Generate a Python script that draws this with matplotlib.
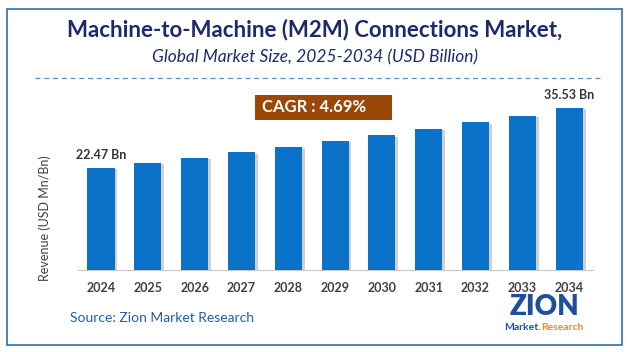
import matplotlib
matplotlib.use("Agg")
import matplotlib.pyplot as plt
import matplotlib.patheffects as pe
from matplotlib.patches import Rectangle

# datos
years = ['2024', '2025', '2026', '2027', '2028', '2029', '2030', '2031', '2032', '2033', '2034']
revenue = [22.47, 23.5, 24.6, 25.8, 27.0, 28.3, 29.6, 31.0, 32.4, 33.9, 35.53]
value_labels = {0: '22.47 Bn', 10: '35.53 Bn'}
cagr_text = 'CAGR : 4.69%'

plt.rcParams['font.family'] = ['Lato', 'DejaVu Sans']

fig = plt.figure(figsize=(6.29, 3.52), dpi=100)
W, H = 629, 352

# marco azul
fig.patches.append(Rectangle((7 / W, 7 / H), 615 / W, 336 / H, transform=fig.transFigure,
                             fill=False, edgecolor='#2E6DB4', linewidth=1.2))

# titulos
fig.text(0.5, 1 - 30 / H, 'Machine-to-Machine (M2M) Connections Market,', ha='center', va='center',
         fontsize=16, fontweight='bold', color='#1C2A6B')
fig.text(0.5, 1 - 57 / H, 'Global Market Size, 2025-2034 (USD Billion)', ha='center', va='center',
         fontsize=12.5, style='italic', color='#1C2A6B')
fig.lines.append(plt.Line2D([35 / W, 600 / W], [1 - 78 / H, 1 - 78 / H], transform=fig.transFigure,
                            color='#5B8FD0', linewidth=0.9, linestyle=(0, (4, 3))))

# grafico de barras
ax = fig.add_axes([77.6 / W, 82 / H, 515 / W, 180 / H])
x = range(len(years))
bars = ax.bar(x, revenue, width=0.58, color='#0A72C8', zorder=3)
for b in bars:
    b.set_path_effects([pe.SimplePatchShadow(offset=(2, -1), shadow_rgbFace='#8a8a8a', alpha=0.4), pe.Normal()])
for i, txt in value_labels.items():
    ax.text(i, revenue[i] + 1.5, txt, ha='center', va='bottom', fontsize=9, fontweight='bold', color='#333333')

ax.set_xlim(-0.5, 10.5)
ax.set_ylim(0, 39.5)
ax.set_xticks(list(x))
ax.set_xticklabels(years, fontsize=9, fontweight='bold', color='#404040')
ax.tick_params(axis='x', length=0, pad=9)
ax.set_yticks([])
for s in ['top', 'right', 'left']:
    ax.spines[s].set_visible(False)
ax.spines['bottom'].set_color('#C8C8C8')
ax.patch.set_alpha(0)

fig.text(45 / W, 1 - 218 / H, 'Revenue (USD Mn/Bn)', rotation=90, ha='center', va='center',
         fontsize=9, color='#404040')

# caja CAGR
fig.patches.append(Rectangle((255 / W, 1 - 120 / H), 137 / W, 25 / H, transform=fig.transFigure,
                             facecolor='#9A4708', edgecolor='none'))
fig.text(262 / W, 1 - 107.5 / H, cagr_text, ha='left', va='center', fontsize=12, fontweight='bold',
         color='white')

# fuente y logo
fig.text(70 / W, 1 - 318 / H, 'Source: Zion Market Research', ha='left', va='center', fontsize=10,
         color='#1F5FAD')
fig.text(545 / W, 1 - 307 / H, 'ZION', ha='center', va='center', fontsize=20, fontweight='heavy',
         color='#1F4E9C')
fig.text(541 / W, 1 - 328 / H, 'Market.', ha='right', va='center', fontsize=7.5, fontweight='bold',
         color='#1F4E9C')
fig.text(541 / W, 1 - 328 / H, 'Research', ha='left', va='center', fontsize=7.5, fontweight='bold',
         color='#E8892A')

fig.savefig('out.png', dpi=100)
